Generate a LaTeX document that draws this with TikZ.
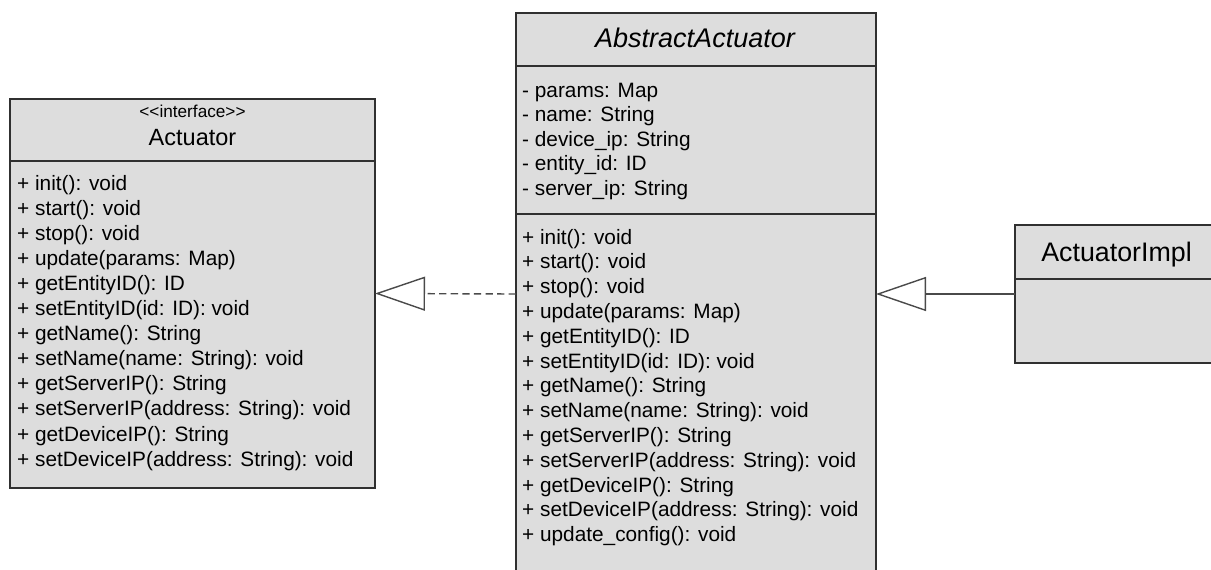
\documentclass[tikz,border=0pt]{standalone}
\usepackage{fontspec}
\setmainfont{Liberation Sans}[Ligatures=TeXOff]
\usetikzlibrary{arrows.meta}
\definecolor{boxfill}{HTML}{DDDDDD}
\definecolor{edgecol}{HTML}{303030}
\definecolor{conncol}{HTML}{4A4A4A}
\tikzset{
  umlbox/.style={draw=edgecol, fill=boxfill, line width=1.4pt, rectangle, inner sep=0pt, outer sep=0pt, anchor=north west},
  divider/.style={draw=edgecol, line width=1.4pt},
  member/.style={anchor=base west, inner sep=0pt, font=\fontsize{20.8}{25}\selectfont},
  titletext/.style={anchor=base, inner sep=0pt},
  realize/.style={draw=conncol, line width=1.4pt, dash pattern=on 7.3pt off 4.3pt,
    -{Triangle[length=50pt, width=34pt, fill=white, line width=1.4pt]}},
  generalize/.style={draw=conncol, line width=1.4pt,
    -{Triangle[length=50pt, width=34pt, fill=white, line width=1.4pt]}},
}
\begin{document}
\begin{tikzpicture}[x=1pt, y=-1pt]
\useasboundingbox (0,0) rectangle (1211,570);
\clip (0,0) rectangle (1211,570);
% boxes
\node[umlbox, minimum width=365pt, minimum height=389pt] (actuator) at (10,99) {};
\node[umlbox, minimum width=360pt, minimum height=562pt] (abstract) at (516,13) {};
\node[umlbox, minimum width=203pt, minimum height=138pt] (impl) at (1015,225) {};
% dividers
\draw[divider] ([yshift=-62pt]actuator.north west) -- ([yshift=-62pt]actuator.north east);
\draw[divider] ([yshift=-53pt]abstract.north west) -- ([yshift=-53pt]abstract.north east);
\draw[divider] ([yshift=-201pt]abstract.north west) -- ([yshift=-201pt]abstract.north east);
\draw[divider] ([yshift=-54pt]impl.north west) -- ([yshift=-54pt]impl.north east);
% titles
\node[titletext, font=\fontsize{17.2}{19}\selectfont] (stereo) at (192.5,117) {<<interface>>};
\node[titletext, font=\fontsize{23.5}{26}\selectfont] (acttitle) at (192.5,145) {Actuator};
\node[titletext, font=\fontsize{27}{30}\selectfont\itshape] (abstitle) at (695,47) {AbstractActuator};
\node[titletext, font=\fontsize{26.8}{30}\selectfont] (impltitle) at (1116.5,261) {ActuatorImpl};
% Actuator members
\foreach [count=\k from 0] \t in {%
  + init(): void,
  + start(): void,
  + stop(): void,
  + update(params: Map),
  + getEntityID(): ID,
  + setEntityID(id: ID): void,
  + getName(): String,
  + setName(name: String): void,
  + getServerIP(): String,
  + setServerIP(address: String): void,
  + getDeviceIP(): String,
  + setDeviceIP(address: String): void}
  \node[member] (am\k) at (17,190+25.1*\k) {\t};
% AbstractActuator attributes
\foreach [count=\k from 0] \t in {%
  - params: Map,
  - name: String,
  - device\_ip: String,
  - entity\_id: ID,
  - server\_ip: String}
  \node[member] (aa\k) at (522,97+24.6*\k) {\t};
% AbstractActuator methods
\foreach [count=\k from 0] \t in {%
  + init(): void,
  + start(): void,
  + stop(): void,
  + update(params: Map),
  + getEntityID(): ID,
  + setEntityID(id: ID): void,
  + getName(): String,
  + setName(name: String): void,
  + getServerIP(): String,
  + setServerIP(address: String): void,
  + getDeviceIP(): String,
  + setDeviceIP(address: String): void,
  + update\_config(): void}
  \node[member] (bm\k) at (522,244+24.8*\k) {\t};
% connectors
\draw[realize] (abstract.west) -- (actuator.east);
\draw[generalize] (impl.west) -- (abstract.east);
\end{tikzpicture}
\end{document}
